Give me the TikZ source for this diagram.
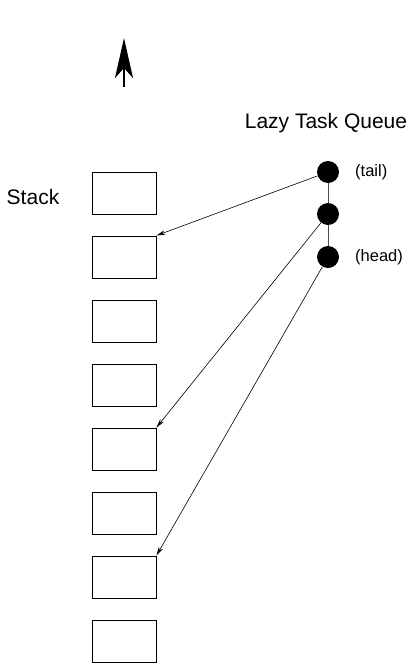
\documentclass[tikz,border=0pt]{standalone}
\usepackage{fontspec}
\setmainfont{Liberation Sans}
\usetikzlibrary{arrows.meta}
\begin{document}
\begin{tikzpicture}[x=1pt,y=-1pt,
  slot/.style={draw,line width=0.9pt,minimum width=64pt,minimum height=42pt,inner sep=0pt},
  qnode/.style={circle,fill=black,minimum size=22pt,inner sep=0pt},
  ptr/.style={line width=0.6pt,-{Stealth[length=9pt,width=4.5pt]}},
  big/.style={font=\fontsize{21}{25}\selectfont},
  small/.style={font=\fontsize{16.5}{20}\selectfont}]
\useasboundingbox (0,0) rectangle (417,667);
\foreach \i in {1,...,8} {
  \node[slot] (b\i) at (124,{193+64*(\i-1)}) {};
}
\node[big] (stack) at (33,197) {Stack};
\node[big] (lq) at (326,123) {Lazy Task Queue};
\coordinate (ub) at (124,87);
\coordinate (ut) at (124,38);
\draw[line width=2.6pt,-{Stealth[length=40pt,width=18pt,inset=10pt]}] (ub) -- (ut);
\draw[line width=0.9pt,black!70] (328,172) -- (328,257);
\node[qnode] (t) at (328,172) {};
\node[qnode] (m) at (328,214) {};
\node[qnode] (h) at (328,257) {};
\node[small,anchor=west,inner sep=0pt] (tl) at (355,172) {(tail)};
\node[small,anchor=west,inner sep=0pt] (hl) at (355,257) {(head)};
\draw[ptr] (t) -- (b2.north east);
\draw[ptr] (m) -- (b5.north east);
\draw[ptr] (h) -- (b7.north east);
\end{tikzpicture}
\end{document}
